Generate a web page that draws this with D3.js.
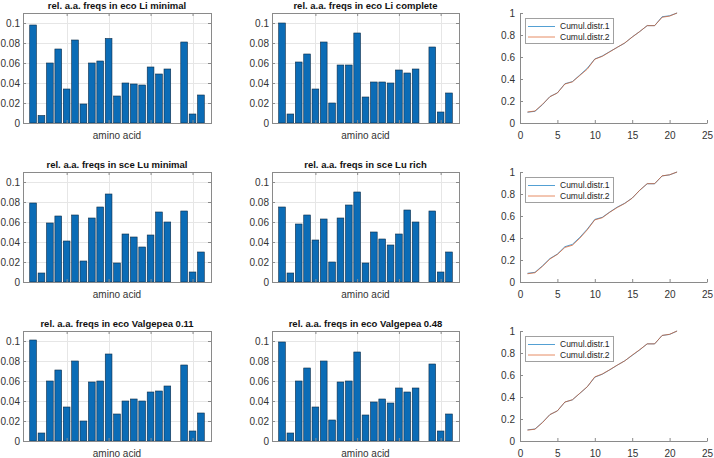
<!DOCTYPE html>
<html>
  <head>
    <title>aa freqs</title>
    <meta charset="utf-8">
    <script src="https://d3js.org/d3.v7.min.js"></script>
    <style type="text/css">
      body { margin: 0; background: #fff; }
      svg text { font-family: "Liberation Sans", Arial, Helvetica, sans-serif; fill: #333; }
      .tick text { font-size: 10px; }
      .tick line { stroke: #8a8a8a; }
      .title { font-size: 9.5px; font-weight: bold; fill: #111; text-anchor: middle; }
      .xlabel { font-size: 10px; text-anchor: middle; }
      .legend text { font-size: 8.5px; fill: #222; }
    </style>
  </head>
  <body>
    <svg id="chart" width="714" height="458"></svg>
    <script>
      // amino acid index (bar positions)
      var positions = [1, 2, 3, 4, 5, 6, 7, 8, 9, 10, 11, 12, 13, 14, 15, 16, 17, 18, 19, 20, 21];

      var titles = [
        "rel. a.a. freqs in eco Li minimal", "rel. a.a. freqs in eco Li complete",
        "rel. a.a. freqs in sce Lu minimal", "rel. a.a. freqs in sce Lu rich",
        "rel. a.a. freqs in eco Valgepea 0.11", "rel. a.a. freqs in eco Valgepea 0.48"
      ];

      var ecoLiMinimal  = [0.098, 0.0075, 0.060, 0.074, 0.034, 0.083, 0.019, 0.060, 0.062, 0.0845, 0.027, 0.040, 0.039, 0.038, 0.056, 0.049, 0.054, 0, 0.081, 0.009, 0.028];
      var ecoLiComplete = [0.100, 0.009, 0.061, 0.069, 0.034, 0.081, 0.020, 0.058, 0.058, 0.090, 0.026, 0.041, 0.041, 0.040, 0.053, 0.050, 0.054, 0, 0.076, 0.011, 0.030];
      var sceLuMinimal  = [0.079, 0.009, 0.059, 0.066, 0.041, 0.067, 0.021, 0.064, 0.075, 0.088, 0.019, 0.048, 0.045, 0.035, 0.047, 0.070, 0.060, 0, 0.071, 0.010, 0.030];
      var sceLuRich     = [0.075, 0.009, 0.058, 0.067, 0.042, 0.063, 0.020, 0.064, 0.077, 0.090, 0.019, 0.050, 0.043, 0.037, 0.048, 0.072, 0.060, 0, 0.071, 0.010, 0.030];
      var ecoVal011     = [0.101, 0.008, 0.060, 0.071, 0.034, 0.080, 0.020, 0.059, 0.060, 0.087, 0.027, 0.040, 0.042, 0.040, 0.049, 0.050, 0.055, 0, 0.076, 0.010, 0.028];
      var ecoVal048     = [0.099, 0.008, 0.060, 0.073, 0.034, 0.080, 0.021, 0.059, 0.060, 0.089, 0.026, 0.039, 0.042, 0.038, 0.053, 0.049, 0.053, 0, 0.077, 0.010, 0.027];

      // cumulative distributions (right column)
      var cumul1Row1 = [0.098, 0.106, 0.166, 0.240, 0.274, 0.357, 0.376, 0.436, 0.498, 0.582, 0.609, 0.649, 0.688, 0.726, 0.782, 0.831, 0.885, 0.885, 0.966, 0.975, 1.0];
      var cumul2Row1 = [0.100, 0.109, 0.170, 0.239, 0.273, 0.354, 0.374, 0.432, 0.490, 0.580, 0.606, 0.647, 0.688, 0.728, 0.781, 0.831, 0.885, 0.885, 0.961, 0.972, 1.0];
      var cumul1Row2 = [0.079, 0.088, 0.147, 0.213, 0.254, 0.321, 0.342, 0.406, 0.481, 0.569, 0.588, 0.636, 0.681, 0.716, 0.763, 0.833, 0.893, 0.893, 0.964, 0.974, 1.0];
      var cumul2Row2 = [0.075, 0.084, 0.142, 0.209, 0.251, 0.314, 0.334, 0.398, 0.475, 0.565, 0.584, 0.634, 0.677, 0.714, 0.762, 0.834, 0.894, 0.894, 0.965, 0.975, 1.0];
      var cumul1Row3 = [0.101, 0.109, 0.169, 0.240, 0.274, 0.354, 0.374, 0.433, 0.493, 0.580, 0.607, 0.647, 0.689, 0.729, 0.778, 0.828, 0.883, 0.883, 0.959, 0.969, 1.0];
      var cumul2Row3 = [0.099, 0.107, 0.167, 0.240, 0.274, 0.354, 0.375, 0.434, 0.494, 0.583, 0.609, 0.648, 0.690, 0.728, 0.781, 0.830, 0.883, 0.883, 0.960, 0.970, 1.0];

      var barTicksY = [0, 0.02, 0.04, 0.06, 0.08, 0.1];
      var barGridX = [5, 10, 15, 20];
      var lineTicksX = [0, 5, 10, 15, 20, 25];
      var lineTicksY = [0, 0.2, 0.4, 0.6, 0.8, 1];
      var legendLabels = ["Cumul.distr.1", "Cumul.distr.2"];

      var barSeries = [ecoLiMinimal, ecoLiComplete, sceLuMinimal, sceLuRich, ecoVal011, ecoVal048];
      var cumulSeries = [[cumul1Row1, cumul2Row1], [cumul1Row2, cumul2Row2], [cumul1Row3, cumul2Row3]];

      var rows = [[13, 123], [172, 282], [331, 441]];
      var barCols = [[23, 211], [272, 459]];
      var lineCol = [520, 707];
      var lineColors = ["#0072BD", "#D95319"];

      var svg = d3.select("#chart");

      function barPanel(r, c) {
        var data = barSeries[r * 2 + c];
        var x = d3.scaleLinear().domain([-0.2, 22.2]).range(barCols[c]);
        var y = d3.scaleLinear().domain([0, 0.11]).range([rows[r][1], rows[r][0]]);
        var g = svg.append("g");
        var x0 = barCols[c][0], x1 = barCols[c][1], y0 = rows[r][0], y1 = rows[r][1];

        // grid
        g.selectAll(".hg").data(barTicksY.slice(1)).enter().append("line")
            .attr("x1", x0).attr("x2", x1)
            .attr("y1", function(d) { return Math.round(y(d)) + 0.5; })
            .attr("y2", function(d) { return Math.round(y(d)) + 0.5; })
            .attr("stroke", "#e6e6e6");
        g.selectAll(".vg").data(barGridX).enter().append("line")
            .attr("y1", y0).attr("y2", y1)
            .attr("x1", function(d) { return Math.round(x(d)) + 0.5; })
            .attr("x2", function(d) { return Math.round(x(d)) + 0.5; })
            .attr("stroke", "#e6e6e6");

        // bars
        g.selectAll("rect").data(data).enter().append("rect")
            .attr("x", function(d, i) { return x(positions[i] - 0.4); })
            .attr("width", x(0.8) - x(0))
            .attr("y", function(d) { return y(d); })
            .attr("height", function(d) { return y(0) - y(d); })
            .attr("fill", "#0b6cb6")
            .attr("stroke", "#0d2c48")
            .attr("stroke-width", 0.6);

        // axes (ticks inward, box on)
        g.append("g").attr("transform", "translate(" + x0 + ",0)")
            .call(d3.axisLeft(y).tickValues(barTicksY).tickSize(-3).tickSizeOuter(0).tickPadding(3).tickFormat(function(d) { return String(d); }))
            .call(function(a) { a.select(".domain").remove(); });
        g.append("g").attr("transform", "translate(" + x1 + ",0)")
            .call(d3.axisRight(y).tickValues(barTicksY).tickSize(-3).tickSizeOuter(0).tickFormat(""))
            .call(function(a) { a.select(".domain").remove(); });
        g.append("g").attr("transform", "translate(0," + y1 + ")")
            .call(d3.axisBottom(x).tickValues(barGridX).tickSize(-3).tickSizeOuter(0).tickFormat(""))
            .call(function(a) { a.select(".domain").remove(); });
        g.append("g").attr("transform", "translate(0," + y0 + ")")
            .call(d3.axisTop(x).tickValues(barGridX).tickSize(-3).tickSizeOuter(0).tickFormat(""))
            .call(function(a) { a.select(".domain").remove(); });

        g.append("rect")
            .attr("x", x0 + 0.5).attr("y", y0 + 0.5)
            .attr("width", x1 - x0).attr("height", y1 - y0)
            .attr("fill", "none").attr("stroke", "#8a8a8a");

        g.append("text").attr("class", "title")
            .attr("x", (x0 + x1) / 2).attr("y", y0 - 4)
            .text(titles[r * 2 + c]);
        g.append("text").attr("class", "xlabel")
            .attr("x", (x0 + x1) / 2).attr("y", y1 + 15.5)
            .text("amino acid");
      }

      function linePanel(r) {
        var x = d3.scaleLinear().domain([0, 25]).range(lineCol);
        var y = d3.scaleLinear().domain([0, 1]).range([rows[r][1], rows[r][0]]);
        var g = svg.append("g");
        var x0 = lineCol[0], y0 = rows[r][0], y1 = rows[r][1];

        var line = d3.line()
            .x(function(d, i) { return x(positions[i]); })
            .y(function(d) { return y(d); });

        cumulSeries[r].forEach(function(s, k) {
          g.append("path").datum(s)
              .attr("d", line)
              .attr("fill", "none")
              .attr("stroke", lineColors[k])
              .attr("stroke-opacity", 0.75)
              .attr("stroke-width", 0.9);
        });

        g.append("g").attr("transform", "translate(" + x0 + ",0)")
            .call(d3.axisLeft(y).tickValues(lineTicksY).tickSize(-3).tickSizeOuter(0).tickPadding(5).tickFormat(function(d) { return String(d); }))
            .call(function(a) { a.select(".domain").attr("stroke", "#8a8a8a"); });
        g.append("g").attr("transform", "translate(0," + y1 + ")")
            .call(d3.axisBottom(x).tickValues(lineTicksX).tickSize(-3).tickSizeOuter(0).tickPadding(8.5).tickFormat(function(d) { return String(d); }))
            .call(function(a) { a.select(".domain").attr("stroke", "#8a8a8a"); });

        // legend
        var lg = g.append("g").attr("class", "legend")
            .attr("transform", "translate(" + (x0 + 5) + "," + (y0 + 5) + ")");
        lg.append("rect").attr("x", 0.5).attr("y", 0.5).attr("width", 88).attr("height", 25)
            .attr("fill", "#fff").attr("stroke", "#a0a0a0");
        legendLabels.forEach(function(lbl, k) {
          var ly = 8.5 + k * 10.5;
          lg.append("line").attr("x1", 3).attr("x2", 30).attr("y1", ly).attr("y2", ly)
              .attr("stroke", lineColors[k]).attr("stroke-opacity", 0.75).attr("stroke-width", 0.9);
          lg.append("text").attr("x", 35).attr("y", ly).attr("dy", "0.33em").text(lbl);
        });
      }

      for (var r = 0; r < 3; r++) {
        barPanel(r, 0);
        barPanel(r, 1);
        linePanel(r);
      }
    </script>
  </body>
</html>
